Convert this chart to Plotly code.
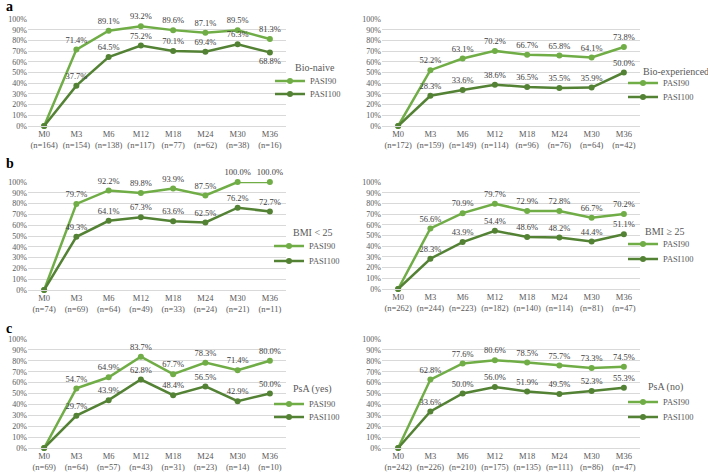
import plotly.graph_objects as go

months = ["M0", "M3", "M6", "M12", "M18", "M24", "M30", "M36"]

# Panel a
a1_title = "Bio-naive"
a1_n = [164, 154, 138, 117, 77, 62, 38, 16]
a1_pasi90 = [0, 71.4, 89.1, 93.2, 89.6, 87.1, 89.5, 81.3]
a1_pasi100 = [0, 37.7, 64.5, 75.2, 70.1, 69.4, 76.3, 68.8]

a2_title = "Bio-experienced"
a2_n = [172, 159, 149, 114, 96, 76, 64, 42]
a2_pasi90 = [0, 52.2, 63.1, 70.2, 66.7, 65.8, 64.1, 73.8]
a2_pasi100 = [0, 28.3, 33.6, 38.6, 36.5, 35.5, 35.9, 50.0]

# Panel b
b1_title = "BMI < 25"
b1_n = [74, 69, 64, 49, 33, 24, 21, 11]
b1_pasi90 = [0, 79.7, 92.2, 89.8, 93.9, 87.5, 100.0, 100.0]
b1_pasi100 = [0, 49.3, 64.1, 67.3, 63.6, 62.5, 76.2, 72.7]

b2_title = "BMI ≥ 25"
b2_n = [262, 244, 223, 182, 140, 114, 81, 47]
b2_pasi90 = [0, 56.6, 70.9, 79.7, 72.9, 72.8, 66.7, 70.2]
b2_pasi100 = [0, 28.3, 43.9, 54.4, 48.6, 48.2, 44.4, 51.1]

# Panel c
c1_title = "PsA (yes)"
c1_n = [69, 64, 57, 43, 31, 23, 14, 10]
c1_pasi90 = [0, 54.7, 64.9, 83.7, 67.7, 78.3, 71.4, 80.0]
c1_pasi100 = [0, 29.7, 43.9, 62.8, 48.4, 56.5, 42.9, 50.0]

c2_title = "PsA (no)"
c2_n = [242, 226, 210, 175, 135, 111, 86, 47]
c2_pasi90 = [0, 62.8, 77.6, 80.6, 78.5, 75.7, 73.3, 74.5]
c2_pasi100 = [0, 33.6, 50.0, 56.0, 51.9, 49.5, 52.3, 55.3]

W, H = 708, 473
FONT = "Liberation Serif, Times New Roman, Times, DejaVu Serif, serif"
C90 = "#70AD47"
C100 = "#548235"
GRID = "#D9D9D9"
TXT = "#595959"

# (title, n, p90, p100, x-domain px, y-domain px, title pos px, legend text x, legend ys)
panels = [
    (a1_title, a1_n, a1_pasi90, a1_pasi100, (28, 286), (19, 126), (293, 67), 314, (81, 94)),
    (a2_title, a2_n, a2_pasi90, a2_pasi100, (382, 640), (19, 126), (641, 71), 667, (83, 97)),
    (b1_title, b1_n, b1_pasi90, b1_pasi100, (28, 286), (182, 290), (291, 232), 313, (246, 261)),
    (b2_title, b2_n, b2_pasi90, b2_pasi100, (382, 640), (182, 289), (643, 231), 667, (244, 259)),
    (c1_title, c1_n, c1_pasi90, c1_pasi100, (28, 286), (339, 448), (291, 389), 313, (404, 417)),
    (c2_title, c2_n, c2_pasi90, c2_pasi100, (382, 640), (339, 448), (646, 387), 667, (402, 417)),
]

fig = go.Figure()
layout = {}
annotations = []

def fmt(v):
    return "" if v == 0 else f"{v:.1f}%"

legidx = 0
for i, (title, n, p90, p100, xd, yd, tp, ltx, lys) in enumerate(panels):
    k = "" if i == 0 else str(i + 1)
    cats = [f"{m}<br>(n={c})" for m, c in zip(months, n)]
    pos100 = ["top center"] * len(p100)
    if i == 0:
        pos100[-1] = "bottom center"
    series = (("PASI90", p90, C90, "top center", lys[0]),
              ("PASI100", p100, C100, pos100, lys[1]))
    for name, vals, col, pos, ly in series:
        legidx += 1
        legname = "legend" if legidx == 1 else f"legend{legidx}"
        fig.add_trace(go.Scatter(
            x=cats, y=vals, name=name, mode="lines+markers+text",
            text=[fmt(v) for v in vals], textposition=pos,
            textfont=dict(family=FONT, size=8.5, color="#404040"),
            line=dict(color=col, width=2.5), marker=dict(color=col, size=6),
            cliponaxis=False, showlegend=True,
            xaxis="x" + k, yaxis="y" + k, legend=legname,
        ))
        layout[legname] = dict(
            x=(ltx - 44) / W, y=1 - ly / H, xanchor="left", yanchor="middle",
            font=dict(family=FONT, size=8.5, color=TXT),
            bgcolor="rgba(0,0,0,0)", borderwidth=0, itemwidth=30,
        )
    layout["xaxis" + k] = dict(
        domain=[xd[0] / W, xd[1] / W], type="category", categoryarray=cats,
        range=[-0.5, 7.5], showgrid=False, showline=True, linecolor=GRID,
        linewidth=1, ticks="", tickfont=dict(family=FONT, size=8.5, color=TXT),
        anchor="y" + k, fixedrange=True, automargin=False,
    )
    layout["yaxis" + k] = dict(
        domain=[1 - yd[1] / H, 1 - yd[0] / H], range=[0, 100], dtick=10,
        ticksuffix="%", showgrid=True, gridcolor=GRID, gridwidth=1,
        zeroline=False, showline=False, ticks="",
        tickfont=dict(family=FONT, size=8, color=TXT),
        anchor="x" + k, fixedrange=True, automargin=False,
    )
    annotations.append(dict(
        text=title, x=tp[0] / W, y=1 - tp[1] / H, xref="paper", yref="paper",
        xanchor="left", yanchor="middle", showarrow=False,
        font=dict(family=FONT, size=10, color=TXT),
    ))

for letter, yp in (("a", 6), ("b", 164), ("c", 328)):
    annotations.append(dict(
        text=f"<b>{letter}</b>", x=4 / W, y=1 - yp / H, xref="paper", yref="paper",
        xanchor="left", yanchor="middle", showarrow=False,
        font=dict(family=FONT, size=14, color="#000000"),
    ))

fig.update_layout(
    width=W, height=H, margin=dict(l=0, r=0, t=0, b=0, autoexpand=False),
    paper_bgcolor="white", plot_bgcolor="white", showlegend=True,
    font=dict(family=FONT, color=TXT),
    annotations=annotations, **layout,
)

fig.write_html(
    "out.html",
    config={"displayModeBar": False},
    post_script="document.body.style.margin='0';document.body.style.overflow='hidden';",
)
